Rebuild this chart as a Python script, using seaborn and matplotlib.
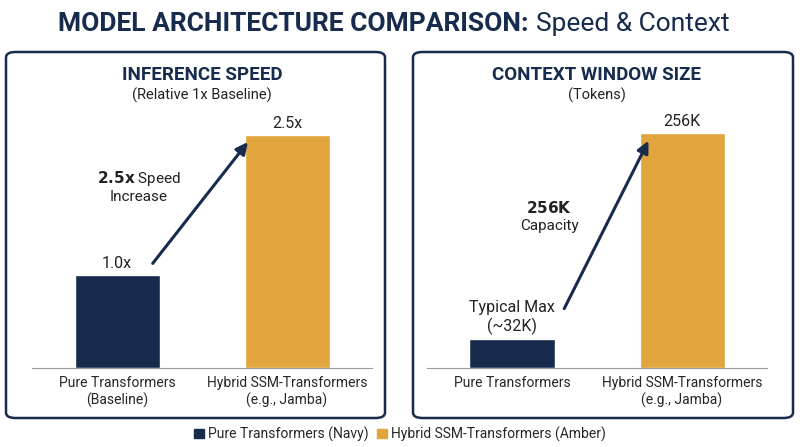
import matplotlib
matplotlib.use("Agg")
import matplotlib.pyplot as plt
import seaborn as sns
import pandas as pd
from matplotlib.patches import FancyBboxPatch, Patch

sns.set_style("white")
plt.rcParams['font.family'] = ['Roboto', 'DejaVu Sans']

NAVY = "#172b4d"
AMBER = "#e2a43c"

categories = ["Pure Transformers\n(Baseline)", "Hybrid SSM-Transformers\n(e.g., Jamba)"]
categories_r = ["Pure Transformers", "Hybrid SSM-Transformers\n(e.g., Jamba)"]
speed = [1.0, 2.5]
speed_labels = ["1.0x", "2.5x"]
context_k = [32, 256]
context_labels = ["Typical Max\n(~32K)", "256K"]
legend_names = ["Pure Transformers (Navy)", "Hybrid SSM-Transformers (Amber)"]

fig = plt.figure(figsize=(8, 4.47), dpi=100)
W, H = 800, 447

def fx(px): return px / W
def fy(py): return 1 - py / H

# panel frames
for x0, x1 in [(6, 385), (413, 793)]:
    fig.patches.append(FancyBboxPatch((fx(x0), fy(418)), fx(x1 - x0), (418 - 52) / H,
                                      boxstyle="round,pad=0,rounding_size=0.012",
                                      transform=fig.transFigure, fill=False,
                                      edgecolor=NAVY, linewidth=1.8))

# title in two parts, second placed right after the first
t1 = fig.text(fx(58), fy(24), "MODEL ARCHITECTURE COMPARISON:", ha="left", va="center",
              fontsize=19, fontweight="bold", color=NAVY)
fig.canvas.draw()
bb = t1.get_window_extent()
fig.text(bb.x1 / W + fx(7), fy(24), "Speed & Context", ha="left", va="center", fontsize=19, color=NAVY)

def panel(left, xs, vals, labels, ylim, title, sub):
    ax = fig.add_axes([fx(left), fy(368), fx(340), 270 / H])
    df = pd.DataFrame({"cat": xs, "val": vals})
    sns.barplot(data=df, x="cat", y="val", hue="cat", palette=[NAVY, AMBER],
                width=0.5, saturation=1, ax=ax, legend=False)
    ax.set_ylim(*ylim)
    ax.set_xlim(-0.5, 1.5)
    for s in ["top", "right", "left"]:
        ax.spines[s].set_visible(False)
    ax.spines["bottom"].set_color("#999999")
    ax.set_yticks([])
    ax.set_xlabel("")
    ax.set_ylabel("")
    ax.tick_params(axis="x", length=0, labelsize=10, pad=6)
    ax.set_facecolor("none")
    off = ylim[1] * 0.015
    for i, (v, lab) in enumerate(zip(vals, labels)):
        ax.text(i, v + off, lab, ha="center", va="bottom", fontsize=11.5, color="#222222")
    cx = fx(left + 170)
    fig.text(cx, fy(75), title, ha="center", va="center", fontsize=13.5, fontweight="bold", color=NAVY)
    fig.text(cx, fy(95), sub, ha="center", va="center", fontsize=10.5, color="#222222")
    return ax

axl = panel(32, categories, speed, speed_labels, (0, 2.9), "INFERENCE SPEED", "(Relative 1x Baseline)")
axl.annotate("", xy=(0.78, 2.45), xytext=(0.2, 1.1),
             arrowprops=dict(arrowstyle="-|>,head_width=0.35,head_length=0.7", color=NAVY, lw=2.2))
axl.text(0.13, 1.95, r"$\bf{2.5x}$ Speed" + "\nIncrease", ha="center", va="center", fontsize=11, color="#222222")

axr = panel(427, categories_r, context_k, context_labels, (0, 294), "CONTEXT WINDOW SIZE", "(Tokens)")
axr.annotate("", xy=(0.81, 250), xytext=(0.3, 62),
             arrowprops=dict(arrowstyle="-|>,head_width=0.35,head_length=0.7", color=NAVY, lw=2.2))
axr.text(0.22, 165, r"$\bf{256K}$" + "\nCapacity", ha="center", va="center", fontsize=11, color="#222222")

handles = [Patch(color=NAVY), Patch(color=AMBER)]
fig.legend(handles, legend_names, loc="center", bbox_to_anchor=(0.5, fy(434)), ncol=2,
           frameon=False, fontsize=10, handlelength=0.7, handleheight=0.7,
           handletextpad=0.3, columnspacing=0.6)

fig.savefig("out.png", dpi=100)
